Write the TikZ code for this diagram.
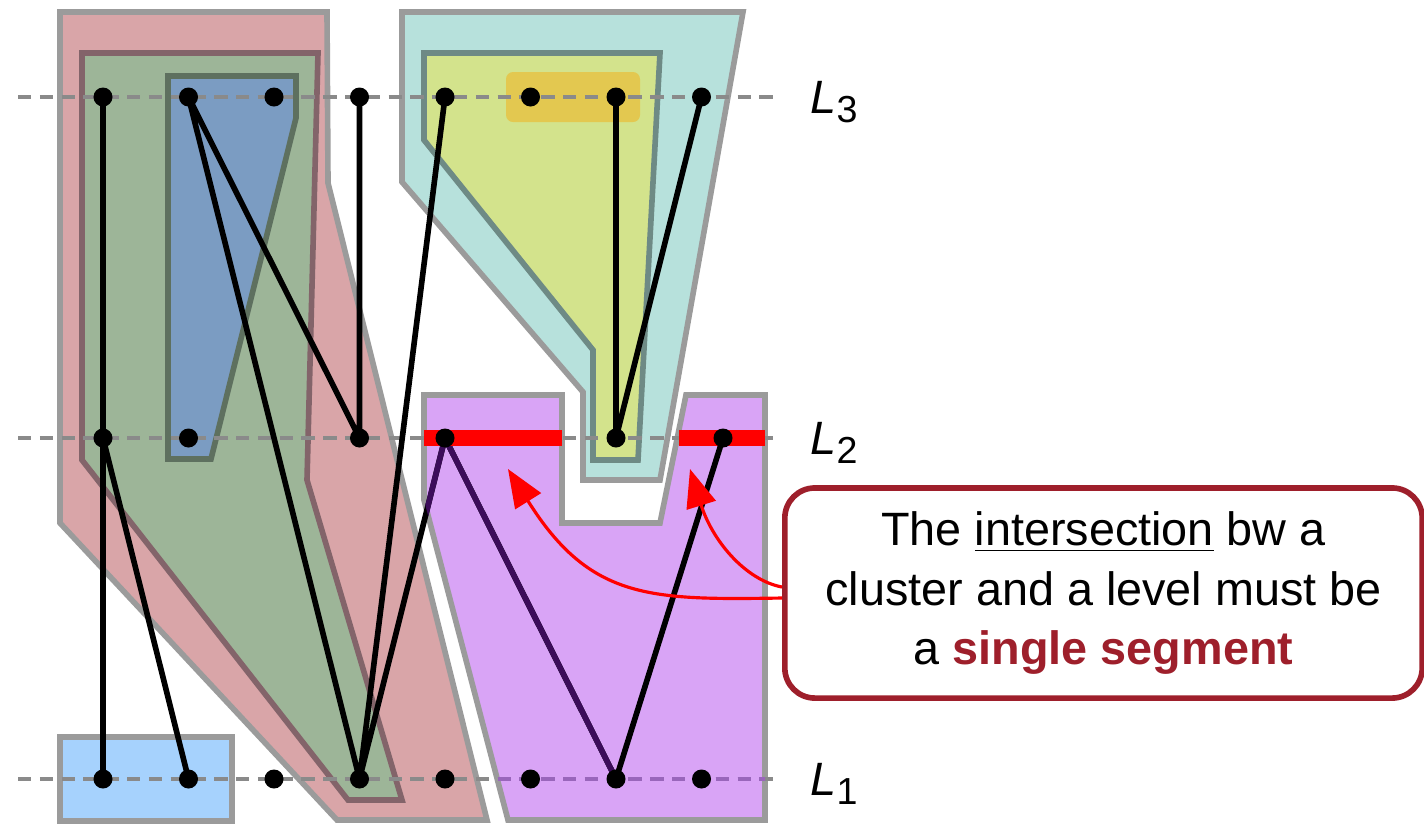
\documentclass[tikz,border=0pt]{standalone}
\usepackage{fontspec}
\setmainfont{Liberation Sans}
\usepackage{xcolor}
\usetikzlibrary{arrows.meta}

\definecolor{cgray}{HTML}{9B9B9B}
\definecolor{cdash}{HTML}{8A8A8A}
\definecolor{cdashp}{HTML}{9966BB}
\definecolor{cpink}{HTML}{D9A5A8}
\definecolor{cgreen}{HTML}{9DB598}
\definecolor{cgreenb}{HTML}{83646A}
\definecolor{cblue}{HTML}{7B9CC2}
\definecolor{cblueb}{HTML}{5E705F}
\definecolor{clblue}{HTML}{A6D2FD}
\definecolor{ccyan}{HTML}{B7E1DC}
\definecolor{cyellow}{HTML}{D3E38C}
\definecolor{cyellowb}{HTML}{6E8A85}
\definecolor{corange}{HTML}{E3C850}
\definecolor{cpurple}{HTML}{D9A4F6}
\definecolor{cdpurple}{HTML}{3C0C5A}
\definecolor{cred}{HTML}{9E1F2B}

\begin{document}
\begin{tikzpicture}[x=0.01cm,y=-0.01cm,
  clu/.style={draw=cgray,line width=1.6pt},
  vtx/.style={circle,fill=black,inner sep=0pt,minimum size=0.19cm},
  lvl/.style={draw=cdash,line width=1pt,dash pattern=on 3.8pt off 2.4pt},
  edg/.style={line width=1.6pt},
  seg/.style={red,line width=4.6pt},
  callarr/.style={red,line width=0.9pt,-{Triangle[length=0.38cm,width=0.3cm]}},
  lab/.style={anchor=base west,inner sep=0pt,font=\fontsize{13.3}{16}\selectfont}]
\useasboundingbox (0,0) rectangle (1424,823);

% clusters
\draw[clu,fill=cpink] (60,12) -- (327,12) -- (328,183) -- (487,820) -- (337,820) -- (60,523) -- cycle;
\draw[clu,draw=cgreenb,fill=cgreen] (82,53) -- (318,53) -- (307,480) -- (402,800) -- (348,800) -- (82,460) -- cycle;
\draw[clu,draw=cblueb,fill=cblue] (168,76) -- (296,76) -- (296,118) -- (211,459) -- (168,459) -- cycle;
\draw[clu,fill=clblue] (60,737) rectangle (232,821);
\draw[clu,fill=ccyan] (402,12) -- (743,12) -- (660,480) -- (583,480) -- (583,392) -- (402,182) -- cycle;
\draw[clu,draw=cyellowb,fill=cyellow] (424,53) -- (660,53) -- (638,460) -- (593,460) -- (593,350) -- (424,140) -- cycle;
\fill[corange,rounded corners=2pt] (506,72) rectangle (640,122);
\def\purplecl{(424,395) -- (562,395) -- (562,523) -- (660,523) -- (686,395) -- (765,395) -- (765,820) -- (508,820) -- (424,500) -- cycle}
\draw[clu,fill=cpurple] \purplecl;

% levels
\foreach \n/\y in {3/97,2/438,1/779} {
  \coordinate (s\n) at (18,\y);
  \coordinate (e\n) at (775,\y);
  \draw[lvl] (s\n) -- (e\n);
  \node[lab] (L\n) at (810,\y+16) {\textit{L}\raisebox{-0.09cm}{\fontsize{10.7}{11}\selectfont\n}};
}

% vertices
\foreach \i in {0,...,7} {
  \coordinate (t\i) at ({103+85.5*\i},97);
  \coordinate (b\i) at ({103+85.5*\i},779);
}
\foreach \i in {0,1,3,4,6}
  \coordinate (m\i) at ({103+85.5*\i},438);
\coordinate (m7) at (723,438);

% edges
\draw[edg] (t0) -- (b0) (m0) -- (b1) (t1) -- (m3) (t1) -- (b3) (t3) -- (m3)
  (t4) -- (b3) (m4) -- (b3) (m4) -- (b6) (t6) -- (m6) (m6) -- (t7) (m7) -- (b6);
\begin{scope}
  \clip \purplecl;
  \draw[lvl,draw=cdashp] (s1) -- (e1);
  \draw[edg,draw=cdpurple] (m4) -- (b3) (m4) -- (b6);
\end{scope}

% intersections with L2
\coordinate (r1a) at (424,438);
\coordinate (r1b) at (562,438);
\coordinate (r2a) at (679,438);
\coordinate (r2b) at (765,438);
\draw[seg] (r1a) -- (r1b) (r2a) -- (r2b);

\foreach \p in {t0,t1,t2,t3,t4,t5,t6,t7,m0,m1,m3,m4,m6,m7,b0,b1,b2,b3,b4,b5,b6,b7}
  \node[vtx] at (\p) {};

% callout
\node[draw=cred,line width=1.6pt,rounded corners=0.3cm,fill=white,
  minimum width=6.37cm,minimum height=2.1cm,align=center,
  font=\fontsize{13.3}{17}\selectfont] (note) at (1103.5,593)
  {The \underline{intersection} bw a\\cluster and a level must be\\a \textcolor{cred}{\textbf{single segment}}};
\coordinate (tipA) at (508,469);
\coordinate (tipB) at (690,469);
\draw[callarr] ([yshift=-0.05cm]note.west) .. controls (650,600) and (590,600) .. (tipA);
\draw[callarr] ([yshift=0.06cm]note.west) .. controls (745,580) and (712,540) .. (tipB);
\end{tikzpicture}
\end{document}
